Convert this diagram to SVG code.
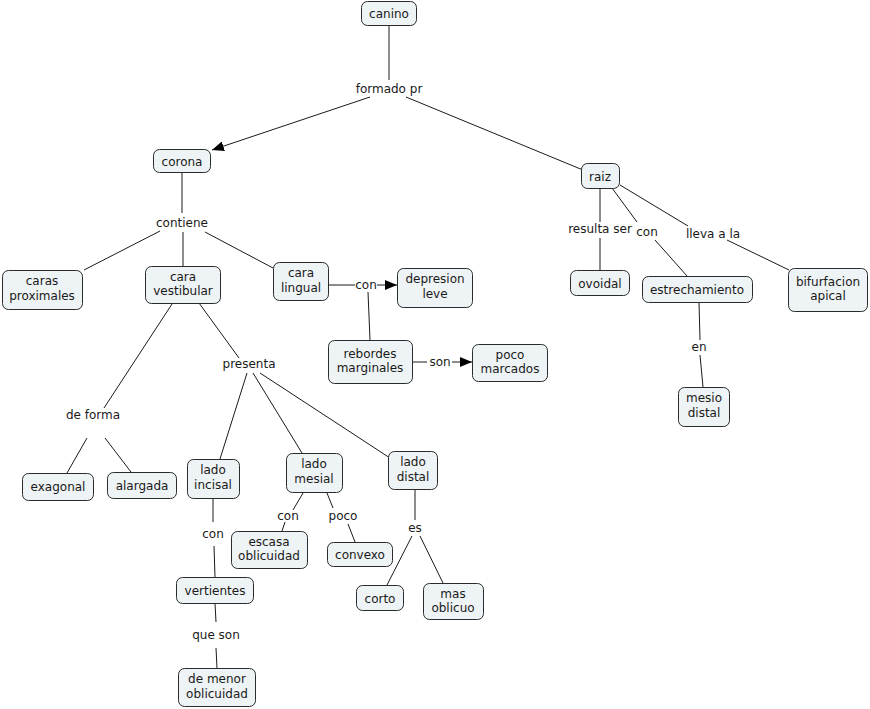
<svg xmlns="http://www.w3.org/2000/svg" width="870" height="709" viewBox="0 0 870 709">
<defs>
<style>
.n rect{fill:#eef3f5;stroke:#2b2b2b;stroke-width:1}
text{font-family:"DejaVu Sans",Verdana,sans-serif;font-size:12px;fill:#1a1a1a;text-anchor:middle}
.c path{fill:none;stroke:#1a1a1a;stroke-width:1}
</style>
<marker id="ar" viewBox="0 0 12 10" refX="12" refY="5" markerWidth="12" markerHeight="10" markerUnits="userSpaceOnUse" orient="auto">
<path d="M0,0 L12,5 L0,10 Z" fill="#000"/>
</marker>
</defs>
<rect width="870" height="709" fill="#fff"/>
<g class="c">
<path d="M389,25 V80"/>
<path d="M370,97 L212,150" marker-end="url(#ar)"/>
<path d="M406,97 L583,170"/>
<path d="M182,172 V213"/>
<path d="M160,231 L84,270"/>
<path d="M183,232 V267"/>
<path d="M205,232 L273,268"/>
<path d="M328,285 H355"/>
<path d="M377,285 H397" marker-end="url(#ar)"/>
<path d="M368,292 L370,340"/>
<path d="M412,362 H427"/>
<path d="M452,362 H472" marker-end="url(#ar)"/>
<path d="M600,188 V222 M600,238 V270"/>
<path d="M612,188 L637,222 M655,240 L687,276"/>
<path d="M620,185 L688,226 M727,240 L789,270"/>
<path d="M699,302 L700,340 M700,355 L703,387"/>
<path d="M172,304 L104,408"/>
<path d="M87,438 L67,473"/>
<path d="M105,438 L131,472"/>
<path d="M199,303 L239,358"/>
<path d="M247,373 L220,459"/>
<path d="M253,373 L302,453"/>
<path d="M260,373 L390,458"/>
<path d="M213,498 V522 M214,546 L215,577"/>
<path d="M215,603 L216,622 M216,648 L217,668"/>
<path d="M303,493 L293,510 M285,522 L282,531"/>
<path d="M327,493 L333,508 M348,524 L355,542"/>
<path d="M415,489 V520 M412,536 L387,585 M420,536 L443,583"/>
</g>
<g class="lbl">
<text x="389" y="93">formado pr</text>
<text x="182" y="227">contiene</text>
<text x="366" y="289">con</text>
<text x="440" y="366">son</text>
<text x="600" y="233">resulta ser</text>
<text x="647" y="236">con</text>
<text x="713" y="238">lleva a la</text>
<text x="699" y="351">en</text>
<text x="93" y="419">de forma</text>
<text x="249" y="368">presenta</text>
<text x="213" y="538">con</text>
<text x="216" y="639">que son</text>
<text x="288" y="520">con</text>
<text x="343" y="520">poco</text>
<text x="415" y="532">es</text>
</g>
<g class="n" id="canino"><rect x="361.5" y="1.5" width="55" height="24" rx="6"/><text x="389" y="18">canino</text></g>
<g class="n" id="corona"><rect x="153.5" y="149.5" width="57" height="23" rx="6"/><text x="182" y="165.5">corona</text></g>
<g class="n" id="raiz"><rect x="581.5" y="163.5" width="38" height="25" rx="6"/><text x="600" y="180.5">raiz</text></g>
<g class="n" id="caras-proximales"><rect x="2.5" y="270.5" width="80" height="39" rx="6"/><text x="42" y="285">caras</text><text x="42" y="299.5">proximales</text></g>
<g class="n" id="cara-vestibular"><rect x="145.5" y="266.5" width="75" height="37" rx="6"/><text x="183" y="280.5">cara</text><text x="183" y="295">vestibular</text></g>
<g class="n" id="cara-lingual"><rect x="273.5" y="262.5" width="55" height="38" rx="6"/><text x="301" y="277">cara</text><text x="301" y="291.5">lingual</text></g>
<g class="n" id="depresion-leve"><rect x="397.5" y="268.5" width="75" height="39" rx="6"/><text x="435" y="283">depresion</text><text x="435" y="297.5">leve</text></g>
<g class="n" id="rebordes-marginales"><rect x="328.5" y="340.5" width="84" height="43" rx="6"/><text x="370" y="357.5">rebordes</text><text x="370" y="372">marginales</text></g>
<g class="n" id="poco-marcados"><rect x="472.5" y="344.5" width="75" height="37" rx="6"/><text x="510" y="358.5">poco</text><text x="510" y="373">marcados</text></g>
<g class="n" id="ovoidal"><rect x="570.5" y="270.5" width="59" height="25" rx="6"/><text x="600" y="287.5">ovoidal</text></g>
<g class="n" id="estrechamiento"><rect x="642.5" y="276.5" width="110" height="26" rx="6"/><text x="697" y="293.5">estrechamiento</text></g>
<g class="n" id="bifurfacion-apical"><rect x="788.5" y="268.5" width="79" height="43" rx="6"/><text x="828" y="285.5">bifurfacion</text><text x="828" y="300">apical</text></g>
<g class="n" id="mesio-distal"><rect x="678.5" y="387.5" width="51" height="39" rx="6"/><text x="704" y="402">mesio</text><text x="704" y="416.5">distal</text></g>
<g class="n" id="exagonal"><rect x="22.5" y="473.5" width="71" height="27" rx="6"/><text x="58" y="491">exagonal</text></g>
<g class="n" id="alargada"><rect x="107.5" y="472.5" width="69" height="26" rx="6"/><text x="142" y="489.5">alargada</text></g>
<g class="n" id="lado-incisal"><rect x="187.5" y="459.5" width="52" height="39" rx="6"/><text x="213" y="474">lado</text><text x="213" y="488.5">incisal</text></g>
<g class="n" id="lado-mesial"><rect x="286.5" y="453.5" width="56" height="39" rx="6"/><text x="314" y="468">lado</text><text x="314" y="482.5">mesial</text></g>
<g class="n" id="lado-distal"><rect x="388.5" y="451.5" width="49" height="38" rx="6"/><text x="413" y="466">lado</text><text x="413" y="480.5">distal</text></g>
<g class="n" id="escasa-oblicuidad"><rect x="231.5" y="531.5" width="76" height="37" rx="6"/><text x="269" y="545.5">escasa</text><text x="269" y="560">oblicuidad</text></g>
<g class="n" id="convexo"><rect x="327.5" y="542.5" width="65" height="24" rx="6"/><text x="360" y="558.5">convexo</text></g>
<g class="n" id="vertientes"><rect x="176.5" y="577.5" width="77" height="26" rx="6"/><text x="215" y="594.5">vertientes</text></g>
<g class="n" id="de-menor-oblicuidad"><rect x="178.5" y="668.5" width="77" height="38" rx="6"/><text x="217" y="683">de menor</text><text x="217" y="697.5">oblicuidad</text></g>
<g class="n" id="corto"><rect x="356.5" y="585.5" width="47" height="25" rx="6"/><text x="380" y="602.5">corto</text></g>
<g class="n" id="mas-oblicuo"><rect x="423.5" y="583.5" width="60" height="36" rx="6"/><text x="453" y="597.5">mas</text><text x="453" y="612">oblicuo</text></g>
</svg>
